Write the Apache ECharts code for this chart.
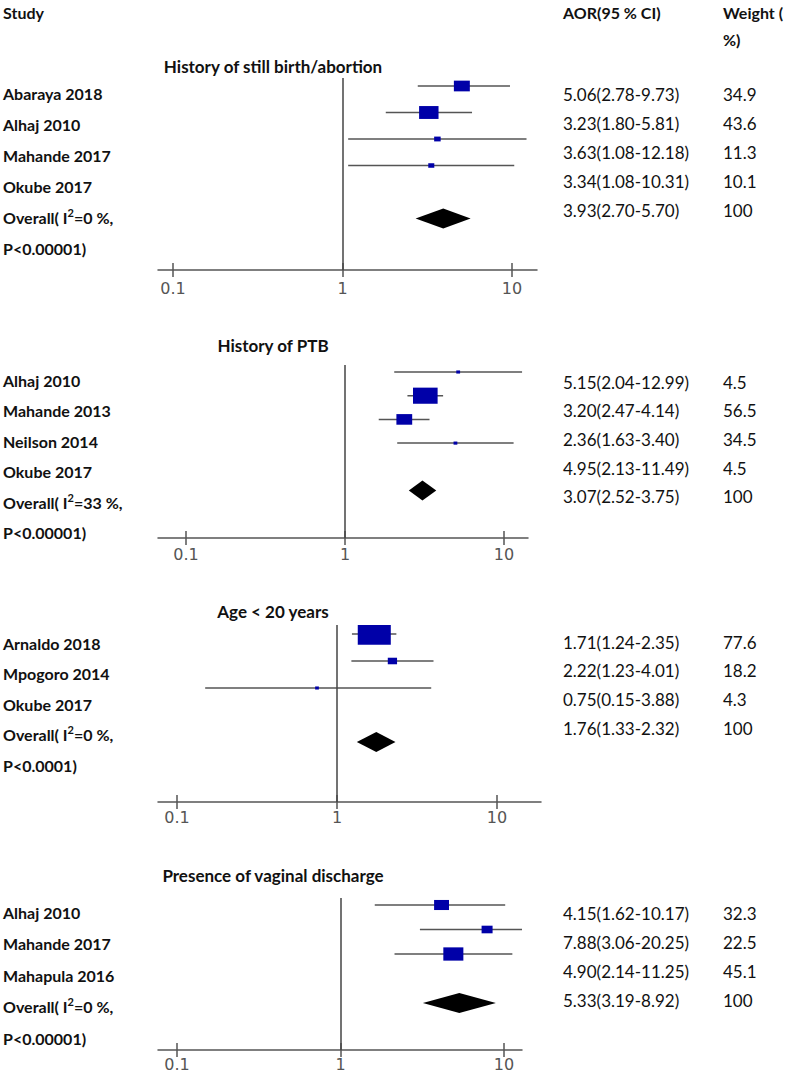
<!DOCTYPE html>
<html><head><meta charset="utf-8">
<script src="https://cdn.jsdelivr.net/npm/echarts@6/dist/echarts.min.js"></script>
<style>html,body{margin:0;padding:0;background:#fff}#c{width:787px;height:1074px}</style>
</head><body><div id="c"></div>
<script>
// ---------------- data ----------------
const headerLabels = ['Study', 'AOR(95 % CI)', 'Weight (', '%)'];
const panelTitles = ['History of still birth/abortion', 'History of PTB', 'Age < 20 years', 'Presence of vaginal discharge'];
const tickValues = [0.1, 1, 10];
const tickLabels = ['0.1', '1', '10'];

const studies1 = ['Abaraya 2018', 'Alhaj 2010', 'Mahande 2017', 'Okube 2017'];
const aor1 = [5.06, 3.23, 3.63, 3.34];
const lower1 = [2.78, 1.80, 1.08, 1.08];
const upper1 = [9.73, 5.81, 12.18, 10.31];
const weight1 = [34.9, 43.6, 11.3, 10.1];
const overall1 = [3.93, 2.70, 5.70];
const i2_1 = '0';
const p_1 = 'P<0.00001)';

const studies2 = ['Alhaj 2010', 'Mahande 2013', 'Neilson 2014', 'Okube 2017'];
const aor2 = [5.15, 3.20, 2.36, 4.95];
const lower2 = [2.04, 2.47, 1.63, 2.13];
const upper2 = [12.99, 4.14, 3.40, 11.49];
const weight2 = [4.5, 56.5, 34.5, 4.5];
const overall2 = [3.07, 2.52, 3.75];
const i2_2 = '33';
const p_2 = 'P<0.00001)';

const studies3 = ['Arnaldo 2018', 'Mpogoro 2014', 'Okube 2017'];
const aor3 = [1.71, 2.22, 0.75];
const lower3 = [1.24, 1.23, 0.15];
const upper3 = [2.35, 4.01, 3.88];
const weight3 = [77.6, 18.2, 4.3];
const overall3 = [1.76, 1.33, 2.32];
const i2_3 = '0';
const p_3 = 'P<0.0001)';

const studies4 = ['Alhaj 2010', 'Mahande 2017', 'Mahapula 2016'];
const aor4 = [4.15, 7.88, 4.90];
const lower4 = [1.62, 3.06, 2.14];
const upper4 = [10.17, 20.25, 11.25];
const weight4 = [32.3, 22.5, 45.1];
const overall4 = [5.33, 3.19, 8.92];
const i2_4 = '0';
const p_4 = 'P<0.00001)';

const panels = [
  {studies: studies1, aor: aor1, lo: lower1, hi: upper1, w: weight1, overall: overall1, i2: i2_1, p: p_1},
  {studies: studies2, aor: aor2, lo: lower2, hi: upper2, w: weight2, overall: overall2, i2: i2_2, p: p_2},
  {studies: studies3, aor: aor3, lo: lower3, hi: upper3, w: weight3, overall: overall3, i2: i2_3, p: p_3},
  {studies: studies4, aor: aor4, lo: lower4, hi: upper4, w: weight4, overall: overall4, i2: i2_4, p: p_4}
];

// ---------------- layout (pixels) ----------------
const layout = [
  {top: 78,  bottom: 270,  left: 158, right: 537, p01: 173, p10: 512, row0: 86,  rowStep: 26.5, titleY: 66,  labelY0: 93,  labelStep: 31,   tableY0: 94,  tableStep: 29,   tickMargin: 10},
  {top: 365, bottom: 538,  left: 158, right: 528, p01: 186, p10: 504, row0: 372, rowStep: 23.7, titleY: 345, labelY0: 380, labelStep: 30.5, tableY0: 382, tableStep: 28.7, tickMargin: 8},
  {top: 625, bottom: 802,  left: 158, right: 541, p01: 177, p10: 497, row0: 634, rowStep: 27,   titleY: 611, labelY0: 643, labelStep: 30.5, tableY0: 642, tableStep: 28.7, tickMargin: 7},
  {top: 898, bottom: 1050, left: 158, right: 522, p01: 177, p10: 504, row0: 905, rowStep: 24.5, titleY: 875, labelY0: 912, labelStep: 31.5, tableY0: 913, tableStep: 29,   tickMargin: 6}
];
const LEFT_TEXT_X = 3, AOR_X = 563, WEIGHT_X = 723, TITLE_CX = 273;
const FONT = 'Lato, "Open Sans", sans-serif';
const LINE_COLOR = '#555';
const BOX_COLOR = '#0000a8';

// ---------------- build ----------------
const grids = [], xAxes = [], yAxes = [], series = [], graphics = [];

function txt(x, y, text, opts) {
  graphics.push({
    type: 'text', x: x, y: y, silent: true,
    style: Object.assign({
      text: text, fill: '#111', fontFamily: FONT, fontSize: 16,
      fontWeight: 'bold', align: 'left', verticalAlign: 'middle'
    }, opts || {})
  });
}

// headers
txt(LEFT_TEXT_X, 12, headerLabels[0]);
txt(AOR_X, 12, headerLabels[1]);
txt(WEIGHT_X, 12, headerLabels[2]);
txt(WEIGHT_X, 39, headerLabels[3]);

panels.forEach((P, i) => {
  const L = layout[i];
  const dec = (L.p10 - L.p01) / 2;
  const p1 = L.p01 + dec;
  const xmin = Math.pow(10, (L.left - p1) / dec);
  const xmax = Math.pow(10, (L.right - p1) / dec);
  const ymin = (L.top - L.row0) / L.rowStep;
  const ymax = (L.bottom - L.row0) / L.rowStep;
  const n = P.studies.length;

  grids.push({left: L.left, width: L.right - L.left, top: L.top, height: L.bottom - L.top, outerBoundsMode: 'none', containLabel: false});

  const fmt = v => {
    let best = 0, bd = Infinity;
    tickValues.forEach((t, k) => { const d = Math.abs(Math.log10(v) - Math.log10(t)); if (d < bd) { bd = d; best = k; } });
    return tickLabels[best];
  };
  xAxes.push({
    type: 'log', logBase: 10, gridIndex: i, position: 'bottom', min: xmin, max: xmax,
    axisLine: {show: true, onZero: false, lineStyle: {color: LINE_COLOR, width: 1.5}},
    axisTick: {show: true, customValues: tickValues, length: 7, inside: false, lineStyle: {color: LINE_COLOR, width: 1.5}},
    axisLabel: {show: true, customValues: tickValues, formatter: fmt, margin: L.tickMargin, fontSize: 16,
      color: '#555', fontFamily: '"DejaVu Sans", sans-serif'},
    splitLine: {show: false}, minorTick: {show: false}
  });
  xAxes.push({
    type: 'log', logBase: 10, gridIndex: i, position: 'bottom', min: xmin, max: xmax,
    axisLine: {show: false, onZero: false},
    axisTick: {show: true, customValues: tickValues, length: 7, inside: true, lineStyle: {color: LINE_COLOR, width: 1.5}},
    axisLabel: {show: false},
    splitLine: {show: false}
  });
  yAxes.push({type: 'value', gridIndex: i, inverse: true, min: ymin, max: ymax, show: false, splitLine: {show: false}});

  // study CIs and boxes
  series.push({
    type: 'custom', name: panelTitles[i], xAxisIndex: 2 * i, yAxisIndex: i, clip: true, silent: true,
    data: P.studies.map((s, k) => [P.aor[k], P.lo[k], P.hi[k], P.w[k], k]),
    encode: {x: [0, 1, 2], y: 4},
    renderItem: (params, api) => {
      const est = api.value(0), lo = api.value(1), hi = api.value(2), w = api.value(3), row = api.value(4);
      const a = api.coord([lo, row]), b = api.coord([hi, row]), c = api.coord([est, row]);
      const bw = 2 + 0.4 * w, bh = 2 + 0.25 * w;
      return {type: 'group', children: [
        {type: 'line', shape: {x1: a[0], y1: a[1], x2: b[0], y2: b[1]}, style: {stroke: LINE_COLOR, lineWidth: 1.5}},
        {type: 'rect', shape: {x: c[0] - bw / 2, y: c[1] - bh / 2, width: bw, height: bh}, style: {fill: BOX_COLOR}}
      ]};
    },
    markLine: {silent: true, symbol: ['none', 'none'], label: {show: false}, animation: false,
      lineStyle: {color: '#444', width: 1.5, type: 'solid'}, data: [{xAxis: 1}]},
    z: 3
  });
  // overall diamond
  series.push({
    type: 'custom', name: panelTitles[i] + ' overall', xAxisIndex: 2 * i, yAxisIndex: i, clip: true, silent: true,
    data: [[P.overall[0], P.overall[1], P.overall[2], n + 1]],
    encode: {x: [0, 1, 2], y: 3},
    renderItem: (params, api) => {
      const est = api.value(0), lo = api.value(1), hi = api.value(2), row = api.value(3);
      const a = api.coord([lo, row]), b = api.coord([hi, row]), c = api.coord([est, row]);
      const h = 10;
      return {type: 'polygon', shape: {points: [[a[0], a[1]], [c[0], c[1] - h], [b[0], b[1]], [c[0], c[1] + h]]},
        style: {fill: '#000'}};
    },
    z: 3
  });

  // title
  txt(TITLE_CX, L.titleY, panelTitles[i], {align: 'center', fontSize: 17});

  // left labels
  P.studies.forEach((s, k) => txt(LEFT_TEXT_X, L.labelY0 + k * L.labelStep, s));
  txt(LEFT_TEXT_X, L.labelY0 + n * L.labelStep, 'Overall( I{sup|2}=' + P.i2 + ' %,',
    {rich: {sup: {fontSize: 11, fontWeight: 'bold', fontFamily: FONT, fill: '#111', padding: [0, 0, 10, 0]}}});
  txt(LEFT_TEXT_X, L.labelY0 + (n + 1) * L.labelStep, P.p);

  // right table
  P.studies.forEach((s, k) => {
    const y = L.tableY0 + k * L.tableStep;
    txt(AOR_X, y, P.aor[k].toFixed(2) + '(' + P.lo[k].toFixed(2) + '-' + P.hi[k].toFixed(2) + ')', {fontWeight: 'normal', fontSize: 17});
    txt(WEIGHT_X, y, String(P.w[k]), {fontWeight: 'normal', fontSize: 17});
  });
  const yo = L.tableY0 + n * L.tableStep;
  txt(AOR_X, yo, P.overall[0].toFixed(2) + '(' + P.overall[1].toFixed(2) + '-' + P.overall[2].toFixed(2) + ')', {fontWeight: 'normal', fontSize: 17});
  txt(WEIGHT_X, yo, '100', {fontWeight: 'normal', fontSize: 17});
});

const chart = echarts.init(document.getElementById('c'), null, {renderer: 'svg', width: 787, height: 1074});
chart.setOption({
  animation: false,
  backgroundColor: '#fff',
  grid: grids,
  xAxis: xAxes,
  yAxis: yAxes,
  series: series,
  graphic: graphics
});
</script>
</body></html>
